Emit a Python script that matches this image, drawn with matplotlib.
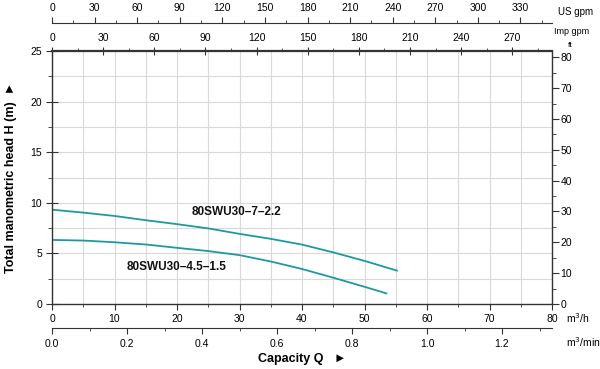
import matplotlib
matplotlib.use("Agg")
import matplotlib.pyplot as plt
import numpy as np
from matplotlib.ticker import FixedLocator, MultipleLocator

plt.rcParams['font.family'] = ['Liberation Sans', 'DejaVu Sans']

# Data (Q in m3/h, H in m)
q_hi = [0, 5, 10, 15, 20, 25, 30, 35, 40, 45, 50, 55.2]
h_hi = [9.32, 9.03, 8.7, 8.28, 7.89, 7.47, 6.93, 6.44, 5.87, 5.1, 4.26, 3.3]
q_lo = [0, 5, 10, 15, 20, 25, 30, 35, 40, 45, 50, 53.5]
h_lo = [6.33, 6.27, 6.1, 5.88, 5.55, 5.23, 4.83, 4.2, 3.46, 2.6, 1.7, 1.05]
name_hi = "80SWU30–7–2.2"
name_lo = "80SWU30–4.5–1.5"

us_ticks = [0, 30, 60, 90, 120, 150, 180, 210, 240, 270, 300, 330]
imp_ticks = [0, 30, 60, 90, 120, 150, 180, 210, 240, 270]
min_ticks = [0.0, 0.2, 0.4, 0.6, 0.8, 1.0, 1.2]

US_GPM = 4.4029
IMP_GPM = 3.6662
FT = 3.2808

W, H = 600, 369
fig = plt.figure(figsize=(6.0, 3.69), dpi=100)

def frac(x0, y0, x1, y1):
    return [x0 / W, 1 - y1 / H, (x1 - x0) / W, (y1 - y0) / H]

line_col = '#1c9aa0'
spine_col = '#333333'
tick_fs = 7.5

ax = fig.add_axes(frac(52, 51, 552, 304))
ax.set_xlim(0, 80)
ax.set_ylim(0, 25)
ax.plot(q_hi, h_hi, color=line_col, lw=1.3)
ax.plot(q_lo, h_lo, color=line_col, lw=1.3)
ax.text(29.6, 9.1, name_hi, fontsize=8.5, fontweight='bold', ha='center', va='center', color='#111111')
ax.text(20, 3.66, name_lo, fontsize=8.5, fontweight='bold', ha='center', va='center', color='#111111')

ax.xaxis.set_major_locator(FixedLocator(np.arange(0, 81, 10)))
ax.xaxis.set_minor_locator(FixedLocator(np.arange(5, 80, 10)))
ax.yaxis.set_major_locator(FixedLocator(np.arange(0, 26, 5)))
ax.yaxis.set_minor_locator(FixedLocator(np.arange(2.5, 25, 5)))
ax.grid(which='both', color='#d9d9d9', lw=0.8)
ax.set_axisbelow(True)
for s in ax.spines.values():
    s.set_color(spine_col)
    s.set_linewidth(1.0)
ax.spines['top'].set_linewidth(1.6)
ax.tick_params(axis='x', which='major', direction='out', length=4, labelsize=tick_fs, pad=3, color=spine_col)
ax.tick_params(axis='x', which='minor', direction='out', length=2.5, color=spine_col)
ax.tick_params(axis='y', which='major', direction='inout', length=8, labelsize=tick_fs, pad=3, color=spine_col)
ax.tick_params(axis='y', which='minor', direction='out', length=3, color=spine_col)
ax.set_ylabel("Total manometric head H (m)  ►", fontsize=9, fontweight='bold', labelpad=10)

# Right ft axis
axr = ax.twinx()
axr.set_ylim(0, 25 * FT)
axr.yaxis.set_major_locator(FixedLocator(np.arange(0, 81, 10)))
axr.yaxis.set_minor_locator(FixedLocator(np.arange(5, 80, 10)))
axr.tick_params(axis='y', which='major', direction='out', length=5, labelsize=tick_fs, pad=1, color=spine_col)
axr.tick_params(axis='y', which='minor', direction='out', length=3, color=spine_col)
for s in axr.spines.values():
    s.set_visible(False)

# Top Imp gpm axis
sec = ax.secondary_xaxis('top', functions=(lambda q: q * IMP_GPM, lambda g: g / IMP_GPM))
sec.xaxis.set_major_locator(FixedLocator(imp_ticks))
sec.xaxis.set_minor_locator(FixedLocator(np.arange(15, 290, 30)))
sec.tick_params(axis='x', which='major', direction='inout', length=6, labelsize=tick_fs, pad=3, color=spine_col)
sec.tick_params(axis='x', which='minor', direction='out', length=2.5, color=spine_col)
sec.spines['top'].set_visible(False)

# US gpm axis
axu = fig.add_axes(frac(52, 22.5, 552, 23))
axu.set_xlim(0, 80 * US_GPM)
axu.set_yticks([])
for k in ['left', 'right', 'bottom']:
    axu.spines[k].set_visible(False)
axu.spines['top'].set_color(spine_col)
axu.patch.set_visible(False)
axu.xaxis.tick_top()
axu.xaxis.set_major_locator(FixedLocator(us_ticks))
axu.xaxis.set_minor_locator(FixedLocator(np.arange(15, 350, 30)))
axu.tick_params(axis='x', which='major', direction='out', length=4, labelsize=tick_fs, pad=3, color=spine_col)
axu.tick_params(axis='x', which='minor', direction='out', length=2.5, color=spine_col)

# m3/min axis
axm = fig.add_axes(frac(52, 327, 552, 327.5))
axm.set_xlim(0, 80 / 60)
axm.set_yticks([])
for k in ['left', 'right', 'top']:
    axm.spines[k].set_visible(False)
axm.spines['bottom'].set_color(spine_col)
axm.patch.set_visible(False)
axm.xaxis.set_major_locator(FixedLocator(min_ticks))
axm.xaxis.set_minor_locator(FixedLocator([0.1, 0.3, 0.5, 0.7, 0.9, 1.1, 1.3]))
axm.xaxis.set_major_formatter(matplotlib.ticker.FormatStrFormatter('%.1f'))
axm.tick_params(axis='x', which='major', direction='out', length=4, labelsize=tick_fs, pad=4, color=spine_col)
axm.tick_params(axis='x', which='minor', direction='out', length=2.5, color=spine_col)

# unit labels
fig.text(558 / W, 1 - 12 / H, "US gpm", fontsize=7, va='center', ha='left')
fig.text(554 / W, 1 - 32 / H, "Imp gpm", fontsize=6.5, va='center', ha='left')
fig.text(568 / W, 1 - 45.5 / H, "ft", fontsize=6, va='center', ha='left')
fig.text(566 / W, 1 - 318 / H, "m$^3$/h", fontsize=7.5, va='center', ha='left')
fig.text(566 / W, 1 - 342 / H, "m$^3$/min", fontsize=7.5, va='center', ha='left')
fig.text(302 / W, 1 - 359 / H, "Capacity Q   ►", fontsize=9, fontweight='bold', va='center', ha='center')

fig.savefig("out.png", dpi=100)
